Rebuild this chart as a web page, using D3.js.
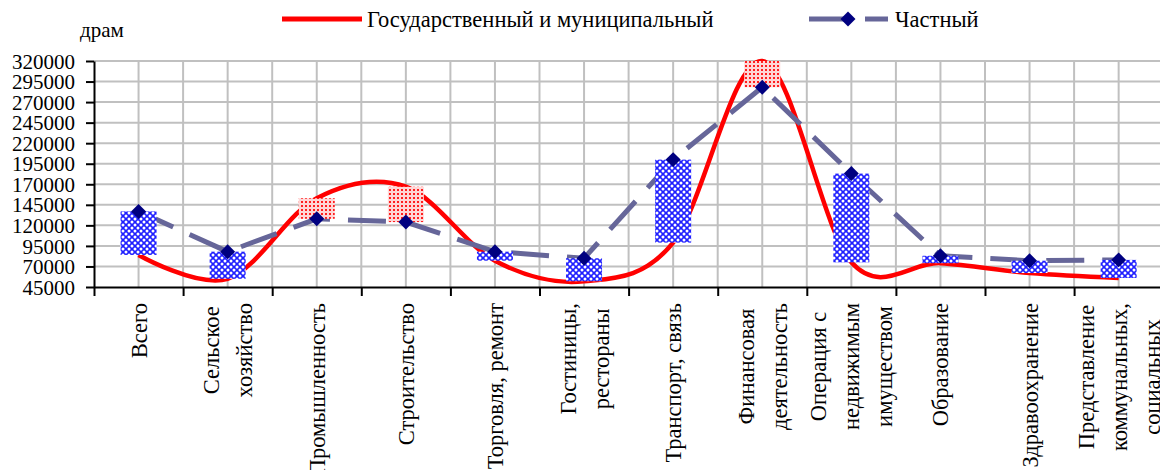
<!DOCTYPE html>
<html><head><meta charset="utf-8">
<script src="https://cdn.jsdelivr.net/npm/d3@7"></script>
<style>
body{margin:0;background:#fff;overflow:hidden}
svg{display:block}
text{font-family:"Liberation Serif","Times New Roman",serif;fill:#000}
</style>
</head><body>
<svg id="c" width="1160" height="470"></svg>
<script>
// ---- data ----
const categories = [
  "Всего",
  "Сельское\nхозяйство",
  "Промышленность",
  "Строительство",
  "Торговля, ремонт",
  "Гостиницы,\nрестораны",
  "Транспорт, связь",
  "Финансовая\nдеятельность",
  "Операция с\nнедвижимым\nимуществом",
  "Образование",
  "Здравоохранение",
  "Представление\nкоммунальных,\nсоциальных"
];
const stateValues   = [84000, 55000, 153000, 167000, 77000, 52000, 99000, 320000, 75000, 74000, 62000, 56000];
const privateValues = [137000, 88000, 128000, 124000, 88000, 80000, 200000, 288000, 183000, 83000, 77000, 78000];
const yTickValues = [45000, 70000, 95000, 120000, 145000, 170000, 195000, 220000, 245000, 270000, 295000, 320000];
const seriesNames = ["Государственный и муниципальный", "Частный"];
const unitLabel = "драм";

// ---- layout ----
const svg = d3.select("#c");
const pL = 94, pT = 61, pB = 287, band = 89.1;
const x = d3.scaleBand().domain(categories).range([pL, pL + band * categories.length]).padding(0);
const y = d3.scaleLinear().domain([yTickValues[0], yTickValues[yTickValues.length - 1]]).range([pB, pT]);
const cx = c => x(c) + x.bandwidth() / 2;
const FS = 21, FS_TXT = 22.5;

// patterns
const defs = svg.append("defs");
const pb = defs.append("pattern").attr("id", "pBlue").attr("patternUnits", "userSpaceOnUse")
  .attr("width", 6).attr("height", 6);
pb.append("rect").attr("width", 6).attr("height", 6).attr("fill", "#1f1fff");
[[0,0],[6,0],[0,6],[6,6],[3,3]].forEach(p => pb.append("circle").attr("cx", p[0]).attr("cy", p[1]).attr("r", 1.5).attr("fill", "#fff"));
const pr = defs.append("pattern").attr("id", "pRed").attr("patternUnits", "userSpaceOnUse")
  .attr("width", 4).attr("height", 4);
pr.append("rect").attr("width", 4).attr("height", 4).attr("fill", "#ffd6d6");
pr.append("rect").attr("x", 1).attr("y", 1).attr("width", 2).attr("height", 2).attr("fill", "#ff2020");

// grid
const grid = svg.append("g");
grid.selectAll("line.h").data(yTickValues.slice(1)).join("line")
  .attr("x1", pL).attr("x2", x.range()[1])
  .attr("y1", d => y(d)).attr("y2", d => y(d))
  .attr("stroke", "#c0c0c0").attr("stroke-width", 2);
const vx = [];
categories.forEach((c, i) => { if (i > 0) vx.push(x(c)); vx.push(cx(c)); });
grid.selectAll("line.v").data(vx).join("line")
  .attr("x1", d => d).attr("x2", d => d).attr("y1", pT).attr("y2", pB)
  .attr("stroke", "#c0c0c0").attr("stroke-width", 2);

// lines
const stateLine = d3.line().x((d, i) => cx(categories[i])).y(d => y(d)).curve(d3.curveCardinal.tension(0));
svg.append("path").datum(stateValues).attr("d", stateLine)
  .attr("fill", "none").attr("stroke", "#ff0000").attr("stroke-width", 4.5);
const privLine = d3.line().x((d, i) => cx(categories[i])).y(d => y(d));
svg.append("path").datum(privateValues).attr("d", privLine)
  .attr("fill", "none").attr("stroke", "#666699").attr("stroke-width", 5)
  .attr("stroke-dasharray", "38,18");

// up/down bars
const barW = 36;
svg.append("g").selectAll("rect").data(categories).join("rect")
  .attr("x", c => cx(c) - barW / 2)
  .attr("width", barW)
  .attr("y", (c, i) => y(Math.max(stateValues[i], privateValues[i])))
  .attr("height", (c, i) => Math.abs(y(stateValues[i]) - y(privateValues[i])))
  .attr("fill", (c, i) => privateValues[i] > stateValues[i] ? "url(#pBlue)" : "url(#pRed)");

// markers
const diamond = d3.symbol().type(d3.symbolSquare).size(112);
svg.append("g").selectAll("path").data(privateValues).join("path")
  .attr("d", diamond)
  .attr("transform", (d, i) => `translate(${cx(categories[i])},${y(d)}) rotate(45)`)
  .attr("fill", "#000080");

// y axis
const ya = svg.append("g").attr("transform", `translate(${pL},0)`)
  .call(d3.axisLeft(y).tickValues(yTickValues).tickSize(8).tickSizeOuter(0).tickPadding(11).tickFormat(d3.format("d")));
ya.select(".domain").attr("stroke", "#000").attr("stroke-width", 2);
ya.selectAll(".tick line").attr("stroke", "#000").attr("stroke-width", 2);
ya.attr("font-family", null).attr("font-size", null);
ya.selectAll(".tick text").attr("font-size", FS).attr("dy", "0.34em");

// x axis (ticks at category boundaries)
const xb = d3.scaleLinear().domain([0, categories.length]).range(x.range());
const xa = svg.append("g").attr("transform", `translate(0,${pB})`)
  .call(d3.axisBottom(xb).ticks(categories.length).tickSize(9).tickSizeOuter(0).tickFormat(""));
xa.select(".domain").attr("stroke", "#000").attr("stroke-width", 2);
xa.selectAll(".tick line").attr("stroke", "#000").attr("stroke-width", 2);

// category labels (rotated)
const lab = svg.append("g").selectAll("g").data(categories).join("g")
  .attr("transform", c => `translate(${cx(c)},303) rotate(-90)`);
lab.each(function (c) {
  const lines = c.split("\n");
  const n = lines.length;
  const g = d3.select(this);
  const ts = lines.map((t, i) => g.append("text").attr("font-size", FS_TXT)
    .attr("text-anchor", "middle")
    .attr("y", (i - (n - 1) / 2) * 33 + 8)
    .text(t));
  const maxLen = d3.max(ts, t => t.node().getComputedTextLength());
  ts.forEach(t => t.attr("x", -maxLen / 2));
});

// unit label
svg.append("text").attr("x", 80).attr("y", 37).attr("font-size", FS).text(unitLabel);

// legend
const lg = svg.append("g");
lg.append("line").attr("x1", 282).attr("x2", 362).attr("y1", 19).attr("y2", 19)
  .attr("stroke", "#ff0000").attr("stroke-width", 5);
lg.append("text").attr("x", 367).attr("y", 27).attr("font-size", FS_TXT).text(seriesNames[0]);
lg.append("line").attr("x1", 809).attr("x2", 888).attr("y1", 19).attr("y2", 19)
  .attr("stroke", "#666699").attr("stroke-width", 5).attr("stroke-dasharray", "38,18");
lg.append("path").attr("d", diamond).attr("transform", "translate(848,19) rotate(45)").attr("fill", "#000080");
lg.append("text").attr("x", 895).attr("y", 27).attr("font-size", FS_TXT).text(seriesNames[1]);
</script>
</body></html>
